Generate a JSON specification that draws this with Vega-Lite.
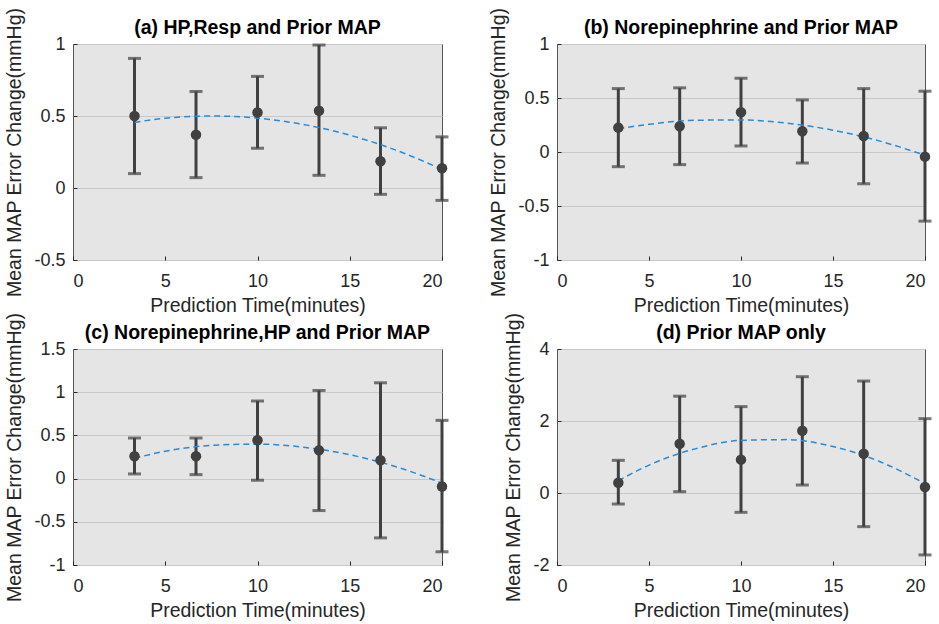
{
  "$schema": "https://vega.github.io/schema/vega-lite/v6.json",
  "background": "white",
  "padding": {"left": 4, "top": 6, "right": 5, "bottom": 5},
  "datasets": {
    "pts": [
      {"panel": "a", "t": 3.333, "m": 0.50, "lo": 0.10, "hi": 0.90},
      {"panel": "a", "t": 6.667, "m": 0.37, "lo": 0.072, "hi": 0.67},
      {"panel": "a", "t": 10, "m": 0.524, "lo": 0.276, "hi": 0.775},
      {"panel": "a", "t": 13.333, "m": 0.536, "lo": 0.088, "hi": 0.993},
      {"panel": "a", "t": 16.667, "m": 0.186, "lo": -0.044, "hi": 0.418},
      {"panel": "a", "t": 20, "m": 0.137, "lo": -0.086, "hi": 0.355},
      {"panel": "b", "t": 3.333, "m": 0.226, "lo": -0.136, "hi": 0.587},
      {"panel": "b", "t": 6.667, "m": 0.238, "lo": -0.117, "hi": 0.594},
      {"panel": "b", "t": 10, "m": 0.368, "lo": 0.056, "hi": 0.683},
      {"panel": "b", "t": 13.333, "m": 0.192, "lo": -0.102, "hi": 0.482},
      {"panel": "b", "t": 16.667, "m": 0.148, "lo": -0.294, "hi": 0.587},
      {"panel": "b", "t": 20, "m": -0.043, "lo": -0.64, "hi": 0.563},
      {"panel": "c", "t": 3.333, "m": 0.258, "lo": 0.054, "hi": 0.47},
      {"panel": "c", "t": 6.667, "m": 0.258, "lo": 0.046, "hi": 0.47},
      {"panel": "c", "t": 10, "m": 0.443, "lo": -0.019, "hi": 0.898},
      {"panel": "c", "t": 13.333, "m": 0.327, "lo": -0.37, "hi": 1.02},
      {"panel": "c", "t": 16.667, "m": 0.212, "lo": -0.686, "hi": 1.109},
      {"panel": "c", "t": 20, "m": -0.092, "lo": -0.847, "hi": 0.674},
      {"panel": "d", "t": 3.333, "m": 0.287, "lo": -0.306, "hi": 0.907},
      {"panel": "d", "t": 6.667, "m": 1.37, "lo": 0.037, "hi": 2.69},
      {"panel": "d", "t": 10, "m": 0.926, "lo": -0.537, "hi": 2.40},
      {"panel": "d", "t": 13.333, "m": 1.73, "lo": 0.222, "hi": 3.23},
      {"panel": "d", "t": 16.667, "m": 1.09, "lo": -0.935, "hi": 3.11},
      {"panel": "d", "t": 20, "m": 0.167, "lo": -1.72, "hi": 2.065}
    ],
    "fit": [
      {"panel": "a", "t": 3.333, "y": 0.455},
      {"panel": "a", "t": 5, "y": 0.485},
      {"panel": "a", "t": 7.5, "y": 0.50},
      {"panel": "a", "t": 10, "y": 0.485},
      {"panel": "a", "t": 12.5, "y": 0.441},
      {"panel": "a", "t": 15, "y": 0.367},
      {"panel": "a", "t": 17.5, "y": 0.263},
      {"panel": "a", "t": 20, "y": 0.13},
      {"panel": "b", "t": 3.333, "y": 0.215},
      {"panel": "b", "t": 5, "y": 0.256},
      {"panel": "b", "t": 7.5, "y": 0.294},
      {"panel": "b", "t": 10, "y": 0.297},
      {"panel": "b", "t": 12.5, "y": 0.267},
      {"panel": "b", "t": 15, "y": 0.202},
      {"panel": "b", "t": 17.5, "y": 0.103},
      {"panel": "b", "t": 20, "y": -0.03},
      {"panel": "c", "t": 3.333, "y": 0.235},
      {"panel": "c", "t": 5, "y": 0.317},
      {"panel": "c", "t": 7.5, "y": 0.384},
      {"panel": "c", "t": 10, "y": 0.399},
      {"panel": "c", "t": 12.5, "y": 0.363},
      {"panel": "c", "t": 15, "y": 0.276},
      {"panel": "c", "t": 17.5, "y": 0.138},
      {"panel": "c", "t": 20, "y": -0.052},
      {"panel": "d", "t": 3.333, "y": 0.34},
      {"panel": "d", "t": 5, "y": 0.775},
      {"panel": "d", "t": 7.5, "y": 1.225},
      {"panel": "d", "t": 10, "y": 1.461},
      {"panel": "d", "t": 12.5, "y": 1.483},
      {"panel": "d", "t": 15, "y": 1.29},
      {"panel": "d", "t": 17.5, "y": 0.882},
      {"panel": "d", "t": 20, "y": 0.26}
    ]
  },
  "columns": 2,
  "spacing": {"row": 89, "column": 115},
  "bounds": "flush",
  "concat": [
    {
      "title": "(a) HP,Resp and Prior MAP",
      "width": 369, "height": 216,
      "layer": [
        {"data": {"name": "pts"}, "transform": [{"filter": "datum.panel === 'a'"}],
         "mark": {"type": "rule", "color": "#404040", "strokeWidth": 3},
         "encoding": {
           "x": {"field": "t", "type": "quantitative", "scale": {"domain": [0, 20], "nice": false}, "axis": {"title": "Prediction Time(minutes)", "values": [0, 5, 10, 15, 20], "labelExpr": "datum.value + ''"}},
           "y": {"field": "lo", "type": "quantitative", "scale": {"domain": [-0.5, 1], "nice": false}, "axis": {"title": "Mean MAP Error Change(mmHg)", "values": [-0.5, 0, 0.5, 1], "labelExpr": "datum.value + ''"}},
           "y2": {"field": "hi"}}},
        {"data": {"name": "pts"}, "transform": [{"filter": "datum.panel === 'a'"}],
         "mark": {"type": "tick", "orient": "horizontal", "color": "#404040", "thickness": 3, "size": 13},
         "encoding": {"x": {"field": "t", "type": "quantitative"}, "y": {"field": "hi", "type": "quantitative"}}},
        {"data": {"name": "pts"}, "transform": [{"filter": "datum.panel === 'a'"}],
         "mark": {"type": "tick", "orient": "horizontal", "color": "#404040", "thickness": 3, "size": 13},
         "encoding": {"x": {"field": "t", "type": "quantitative"}, "y": {"field": "lo", "type": "quantitative"}}},
        {"data": {"name": "fit"}, "transform": [{"filter": "datum.panel === 'a'"}],
         "mark": {"type": "line", "color": "#2a8ad6", "strokeWidth": 1.5, "strokeDash": [6, 4], "interpolate": "monotone"},
         "encoding": {"x": {"field": "t", "type": "quantitative"}, "y": {"field": "y", "type": "quantitative"}}},
        {"data": {"name": "pts"}, "transform": [{"filter": "datum.panel === 'a'"}],
         "mark": {"type": "point", "filled": true, "opacity": 1, "color": "#404040", "size": 110},
         "encoding": {"x": {"field": "t", "type": "quantitative"}, "y": {"field": "m", "type": "quantitative"}}}
      ]
    },
    {
      "title": "(b) Norepinephrine and Prior MAP",
      "width": 368, "height": 216,
      "layer": [
        {"data": {"name": "pts"}, "transform": [{"filter": "datum.panel === 'b'"}],
         "mark": {"type": "rule", "color": "#404040", "strokeWidth": 3},
         "encoding": {
           "x": {"field": "t", "type": "quantitative", "scale": {"domain": [0, 20], "nice": false}, "axis": {"title": "Prediction Time(minutes)", "values": [0, 5, 10, 15, 20], "labelExpr": "datum.value + ''"}},
           "y": {"field": "lo", "type": "quantitative", "scale": {"domain": [-1, 1], "nice": false}, "axis": {"title": "Mean MAP Error Change(mmHg)", "values": [-1, -0.5, 0, 0.5, 1], "labelExpr": "datum.value + ''"}},
           "y2": {"field": "hi"}}},
        {"data": {"name": "pts"}, "transform": [{"filter": "datum.panel === 'b'"}],
         "mark": {"type": "tick", "orient": "horizontal", "color": "#404040", "thickness": 3, "size": 13},
         "encoding": {"x": {"field": "t", "type": "quantitative"}, "y": {"field": "hi", "type": "quantitative"}}},
        {"data": {"name": "pts"}, "transform": [{"filter": "datum.panel === 'b'"}],
         "mark": {"type": "tick", "orient": "horizontal", "color": "#404040", "thickness": 3, "size": 13},
         "encoding": {"x": {"field": "t", "type": "quantitative"}, "y": {"field": "lo", "type": "quantitative"}}},
        {"data": {"name": "fit"}, "transform": [{"filter": "datum.panel === 'b'"}],
         "mark": {"type": "line", "color": "#2a8ad6", "strokeWidth": 1.5, "strokeDash": [6, 4], "interpolate": "monotone"},
         "encoding": {"x": {"field": "t", "type": "quantitative"}, "y": {"field": "y", "type": "quantitative"}}},
        {"data": {"name": "pts"}, "transform": [{"filter": "datum.panel === 'b'"}],
         "mark": {"type": "point", "filled": true, "opacity": 1, "color": "#404040", "size": 110},
         "encoding": {"x": {"field": "t", "type": "quantitative"}, "y": {"field": "m", "type": "quantitative"}}}
      ]
    },
    {
      "title": "(c) Norepinephrine,HP and Prior MAP",
      "width": 369, "height": 216,
      "layer": [
        {"data": {"name": "pts"}, "transform": [{"filter": "datum.panel === 'c'"}],
         "mark": {"type": "rule", "color": "#404040", "strokeWidth": 3},
         "encoding": {
           "x": {"field": "t", "type": "quantitative", "scale": {"domain": [0, 20], "nice": false}, "axis": {"title": "Prediction Time(minutes)", "values": [0, 5, 10, 15, 20], "labelExpr": "datum.value + ''"}},
           "y": {"field": "lo", "type": "quantitative", "scale": {"domain": [-1, 1.5], "nice": false}, "axis": {"title": "Mean MAP Error Change(mmHg)", "values": [-1, -0.5, 0, 0.5, 1, 1.5], "labelExpr": "datum.value + ''"}},
           "y2": {"field": "hi"}}},
        {"data": {"name": "pts"}, "transform": [{"filter": "datum.panel === 'c'"}],
         "mark": {"type": "tick", "orient": "horizontal", "color": "#404040", "thickness": 3, "size": 13},
         "encoding": {"x": {"field": "t", "type": "quantitative"}, "y": {"field": "hi", "type": "quantitative"}}},
        {"data": {"name": "pts"}, "transform": [{"filter": "datum.panel === 'c'"}],
         "mark": {"type": "tick", "orient": "horizontal", "color": "#404040", "thickness": 3, "size": 13},
         "encoding": {"x": {"field": "t", "type": "quantitative"}, "y": {"field": "lo", "type": "quantitative"}}},
        {"data": {"name": "fit"}, "transform": [{"filter": "datum.panel === 'c'"}],
         "mark": {"type": "line", "color": "#2a8ad6", "strokeWidth": 1.5, "strokeDash": [6, 4], "interpolate": "monotone"},
         "encoding": {"x": {"field": "t", "type": "quantitative"}, "y": {"field": "y", "type": "quantitative"}}},
        {"data": {"name": "pts"}, "transform": [{"filter": "datum.panel === 'c'"}],
         "mark": {"type": "point", "filled": true, "opacity": 1, "color": "#404040", "size": 110},
         "encoding": {"x": {"field": "t", "type": "quantitative"}, "y": {"field": "m", "type": "quantitative"}}}
      ]
    },
    {
      "title": "(d) Prior MAP only",
      "width": 368, "height": 216,
      "layer": [
        {"data": {"name": "pts"}, "transform": [{"filter": "datum.panel === 'd'"}],
         "mark": {"type": "rule", "color": "#404040", "strokeWidth": 3},
         "encoding": {
           "x": {"field": "t", "type": "quantitative", "scale": {"domain": [0, 20], "nice": false}, "axis": {"title": "Prediction Time(minutes)", "values": [0, 5, 10, 15, 20], "labelExpr": "datum.value + ''"}},
           "y": {"field": "lo", "type": "quantitative", "scale": {"domain": [-2, 4], "nice": false}, "axis": {"title": "Mean MAP Error Change(mmHg)", "values": [-2, 0, 2, 4], "labelExpr": "datum.value + ''"}},
           "y2": {"field": "hi"}}},
        {"data": {"name": "pts"}, "transform": [{"filter": "datum.panel === 'd'"}],
         "mark": {"type": "tick", "orient": "horizontal", "color": "#404040", "thickness": 3, "size": 13},
         "encoding": {"x": {"field": "t", "type": "quantitative"}, "y": {"field": "hi", "type": "quantitative"}}},
        {"data": {"name": "pts"}, "transform": [{"filter": "datum.panel === 'd'"}],
         "mark": {"type": "tick", "orient": "horizontal", "color": "#404040", "thickness": 3, "size": 13},
         "encoding": {"x": {"field": "t", "type": "quantitative"}, "y": {"field": "lo", "type": "quantitative"}}},
        {"data": {"name": "fit"}, "transform": [{"filter": "datum.panel === 'd'"}],
         "mark": {"type": "line", "color": "#2a8ad6", "strokeWidth": 1.5, "strokeDash": [6, 4], "interpolate": "monotone"},
         "encoding": {"x": {"field": "t", "type": "quantitative"}, "y": {"field": "y", "type": "quantitative"}}},
        {"data": {"name": "pts"}, "transform": [{"filter": "datum.panel === 'd'"}],
         "mark": {"type": "point", "filled": true, "opacity": 1, "color": "#404040", "size": 110},
         "encoding": {"x": {"field": "t", "type": "quantitative"}, "y": {"field": "m", "type": "quantitative"}}}
      ]
    }
  ],
  "config": {
    "font": "Liberation Sans",
    "view": {"fill": "#e5e5e5", "stroke": "#555555", "strokeWidth": 1},
    "axis": {
      "labelFont": "Liberation Sans", "labelFontSize": 18, "labelColor": "#262626",
      "titleFont": "Liberation Sans", "titleFontSize": 19.5, "titleFontWeight": "normal", "titleColor": "#262626",
      "domain": false, "ticks": true, "tickSize": -4, "tickColor": "#262626", "tickWidth": 1,
      "gridColor": "#c8c8c8", "gridOpacity": 1, "gridWidth": 1
    },
    "axisX": {"grid": false, "labelPadding": 16, "titlePadding": 6},
    "axisY": {"grid": true, "labelPadding": 12, "titlePadding": 9},
    "title": {"font": "Liberation Sans", "fontSize": 19.5, "fontWeight": "bold", "color": "#000000", "offset": -31}
  }
}
